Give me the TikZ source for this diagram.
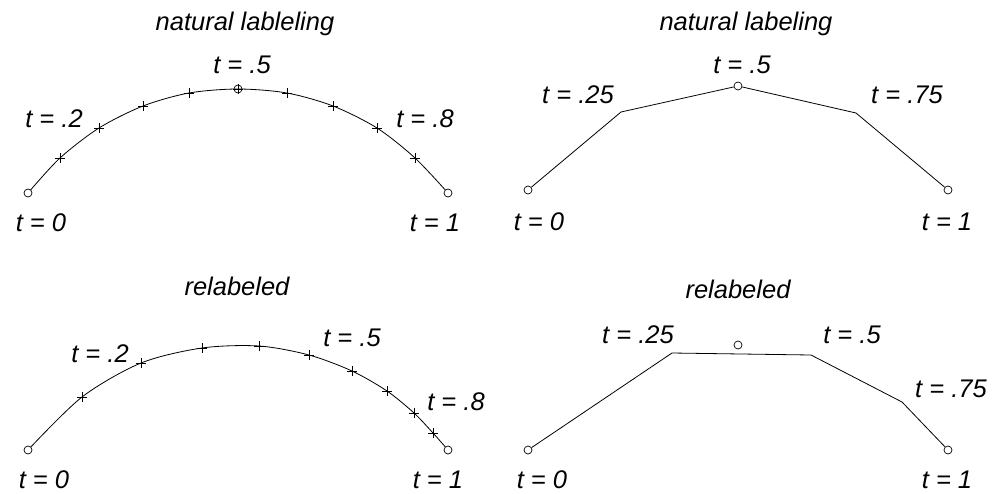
\documentclass[tikz,border=0pt]{standalone}
\usepackage{fontspec}
\setmainfont{Liberation Sans}
\usetikzlibrary{shapes.misc}
\begin{document}
\begin{tikzpicture}[x=1pt,y=-1pt,
  lbl/.style={font=\fontsize{25.5}{30}\selectfont\itshape, anchor=base, inner sep=0},
  ttl/.style={lbl},
  dot/.style={circle, draw, inner sep=0, minimum size=8pt, line width=0.7pt},
  tk/.style={cross out, draw, inner sep=0, minimum size=6pt, rotate=45, line width=0.7pt},
  crv/.style={line width=0.8pt}]
\useasboundingbox (0,0) rectangle (993,493);
% ---------- top-left: natural lableling (curve)
\node[ttl] (t1) at (245,30) {natural lableling};
\coordinate (a0) at (28,193);
\coordinate (a1) at (60,158);
\coordinate (a2) at (99,128);
\coordinate (a3) at (143,106);
\coordinate (a4) at (189,93);
\coordinate (a5) at (238,89);
\coordinate (a6) at (287,93);
\coordinate (a7) at (333,106);
\coordinate (a8) at (377,128);
\coordinate (a9) at (415,158);
\coordinate (a10) at (448,193);
\draw[crv] plot[smooth] coordinates {(a0) (a1) (a2) (a3) (a4) (a5) (a6) (a7) (a8) (a9) (a10)};
\node[dot, fill=white] (ea0) at (a0) {};
\node[dot, fill=white] (ea10) at (a10) {};
\node[dot] (ea5) at (a5) {};
\foreach \i in {1,2,3,4,5,6,7,8,9} \node[tk] (ka\i) at (a\i) {};
\node[lbl] (la5) at (242,73) {t = .5};
\node[lbl] (la2) at (54,127) {t = .2};
\node[lbl] (la8) at (425,127) {t = .8};
\node[lbl] (la0) at (41,231) {t = 0};
\node[lbl] (la10) at (435,231) {t = 1};
% ---------- top-right: natural labeling (polyline)
\node[ttl] (t2) at (746,30) {natural labeling};
\node[dot] (b0) at (528,190) {};
\coordinate (b1) at (621,112);
\node[dot] (b2) at (738,86) {};
\coordinate (b3) at (856,113);
\node[dot] (b4) at (948,190) {};
\draw[crv] (b0) -- (b1) -- (b2) -- (b3) -- (b4);
\node[lbl] (lb2) at (742,73) {t = .5};
\node[lbl] (lb1) at (578,103) {t = .25};
\node[lbl] (lb3) at (907,103) {t = .75};
\node[lbl] (lb0) at (539,230) {t = 0};
\node[lbl] (lb4) at (947,230) {t = 1};
% ---------- bottom-left: relabeled (curve)
\node[ttl] (t3) at (237,295) {relabeled};
\coordinate (c0) at (28,450);
\coordinate (c1) at (82,397);
\coordinate (c2) at (141,363);
\coordinate (c3) at (202,348);
\coordinate (c4) at (259,346);
\coordinate (c5) at (309,355);
\coordinate (c6) at (352,371);
\coordinate (c7) at (387,391);
\coordinate (c8) at (414,413);
\coordinate (c9) at (433,433);
\coordinate (c10) at (448,450);
\draw[crv] plot[smooth] coordinates {(c0) (c1) (c2) (c3) (c4) (c5) (c6) (c7) (c8) (c9) (c10)};
\node[dot, fill=white] (ec0) at (c0) {};
\node[dot, fill=white] (ec10) at (c10) {};
\foreach \i in {1,2,3,4,5,6,7,8,9} \node[tk] (kc\i) at (c\i) {};
\node[lbl] (lc2) at (100,362) {t = .2};
\node[lbl] (lc5) at (352,346) {t = .5};
\node[lbl] (lc8) at (456,410) {t = .8};
\node[lbl] (lc0) at (44,488) {t = 0};
\node[lbl] (lc10) at (438,488) {t = 1};
% ---------- bottom-right: relabeled (polyline)
\node[ttl] (t4) at (738,298) {relabeled};
\node[dot] (d0) at (528,450) {};
\coordinate (d1) at (672,353);
\coordinate (d2) at (811,355);
\coordinate (d3) at (902,402);
\node[dot] (d4) at (948,450) {};
\node[dot] (dm) at (738,345) {};
\draw[crv] (d0) -- (d1) -- (d2) -- (d3) -- (d4);
\node[lbl] (ld1) at (638,343) {t = .25};
\node[lbl] (ld2) at (852,343) {t = .5};
\node[lbl] (ld3) at (951,397) {t = .75};
\node[lbl] (ld0) at (542,488) {t = 0};
\node[lbl] (ld4) at (947,488) {t = 1};
\end{tikzpicture}
\end{document}
